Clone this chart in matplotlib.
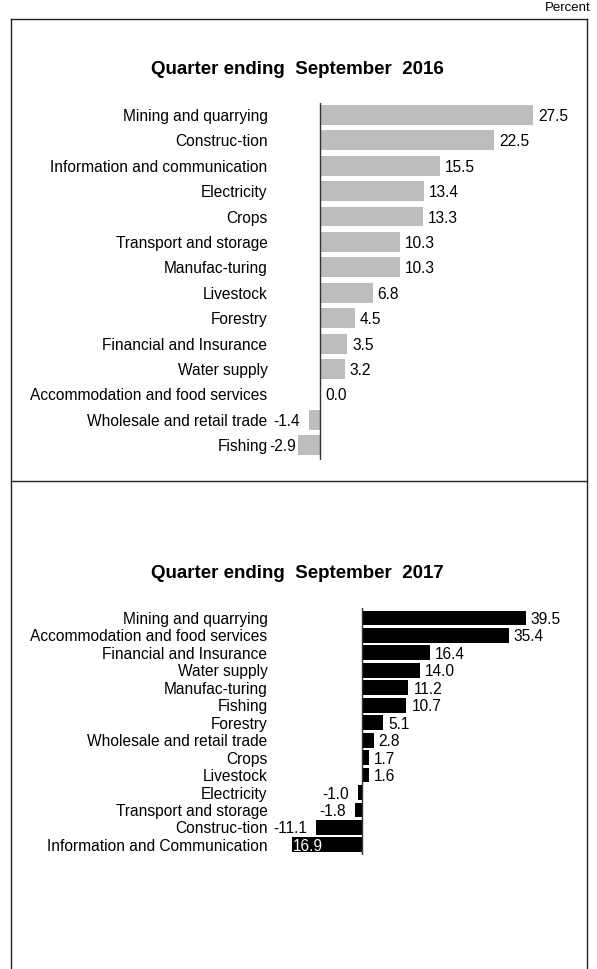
import matplotlib
matplotlib.use('Agg')
import matplotlib.pyplot as plt
from matplotlib.lines import Line2D

plt.rcParams['font.family'] = ['Liberation Sans', 'DejaVu Sans']

# Quarter ending September 2016
cats_2016 = ['Mining and quarrying', 'Construc-tion', 'Information and communication',
             'Electricity', 'Crops', 'Transport and storage', 'Manufac-turing', 'Livestock',
             'Forestry', 'Financial and Insurance', 'Water supply',
             'Accommodation and food services', 'Wholesale and retail trade', 'Fishing']
vals_2016 = [27.5, 22.5, 15.5, 13.4, 13.3, 10.3, 10.3, 6.8, 4.5, 3.5, 3.2, 0.0, -1.4, -2.9]
labels_2016 = ['27.5', '22.5', '15.5', '13.4', '13.3', '10.3', '10.3', '6.8', '4.5', '3.5',
               '3.2', '0.0', '-1.4', '-2.9']

# Quarter ending September 2017
cats_2017 = ['Mining and quarrying', 'Accommodation and food services', 'Financial and Insurance',
             'Water supply', 'Manufac-turing', 'Fishing', 'Forestry', 'Wholesale and retail trade',
             'Crops', 'Livestock', 'Electricity', 'Transport and storage', 'Construc-tion',
             'Information and Communication']
vals_2017 = [39.5, 35.4, 16.4, 14.0, 11.2, 10.7, 5.1, 2.8, 1.7, 1.6, -1.0, -1.8, -11.1, -16.9]
labels_2017 = ['39.5', '35.4', '16.4', '14.0', '11.2', '10.7', '5.1', '2.8', '1.7', '1.6',
               '-1.0', '-1.8', '-11.1', '16.9']

W, H = 597, 969
FS = 11.2
AX_L, AX_R = 280, 580
fig = plt.figure(figsize=(W / 100, H / 100), dpi=100)


def px_axes(left, top, right, bottom):
    return fig.add_axes([left / W, 1 - bottom / H, (right - left) / W, (bottom - top) / H])


def draw_panel(ax, cats, vals, labels, color, xlim, ylim, bar_h):
    n = len(cats)
    ys = list(range(n))
    ax.barh(ys, vals, height=bar_h, color=color, zorder=2)
    ax.set_xlim(*xlim)
    ax.set_ylim(*ylim)
    ax.axvline(0, color='#333333', lw=1.0, zorder=3)
    ax.set_yticks(ys)
    ax.set_yticklabels(cats, fontsize=FS)
    ax.tick_params(axis='y', length=0, pad=9)
    ax.set_xticks([])
    for s in ax.spines.values():
        s.set_visible(False)
    # pixels per data unit, used for label gaps
    scale = (AX_R - AX_L) / (xlim[1] - xlim[0])
    min_right = xlim[0] + (296 - AX_L) / scale
    kw = dict(va='center_baseline', fontsize=FS)
    for y, v, lab in zip(ys, vals, labels):
        if v < 0 and not lab.startswith('-'):
            ax.text(v + 1.5 / scale, y, lab, ha='left', color='white', zorder=4, **kw)
        elif v < 0:
            ax.text(max(v - 9 / scale, min_right), y, lab, ha='right', **kw)
        else:
            ax.text(v + 5 / scale, y, lab, ha='left', **kw)


ax1 = px_axes(AX_L, 103, AX_R, 460)
draw_panel(ax1, cats_2016, vals_2016, labels_2016, '#bdbdbd',
           (-40 / 7.75, 260 / 7.75), (13.58, -0.47), 0.78)

ax2 = px_axes(AX_L, 608, AX_R, 855)
draw_panel(ax2, cats_2017, vals_2017, labels_2017, 'black',
           (-82 / 4.15, 218 / 4.15), (13.58, -0.57), 0.85)

fig.text(297 / W, 1 - 69 / H, 'Quarter ending  September  2016', ha='center', va='center',
         fontsize=13.5, fontweight='bold')
fig.text(297 / W, 1 - 574 / H, 'Quarter ending  September  2017', ha='center', va='center',
         fontsize=13.5, fontweight='bold')
fig.text(591 / W, 1 - 8 / H, 'Percent', ha='right', va='center', fontsize=9.5)

# panel borders
bx0, bx1 = 10.5 / W, 586.5 / W
yt, ym, yb = 1 - 18.5 / H, 1 - 481.5 / H, -0.01
for xs, ys in [([bx0, bx1], [yt, yt]), ([bx0, bx1], [ym, ym]),
               ([bx0, bx0], [yt, yb]), ([bx1, bx1], [yt, yb])]:
    fig.add_artist(Line2D(xs, ys, color='#222222', lw=1.0))

fig.savefig('out.png', dpi=100)
